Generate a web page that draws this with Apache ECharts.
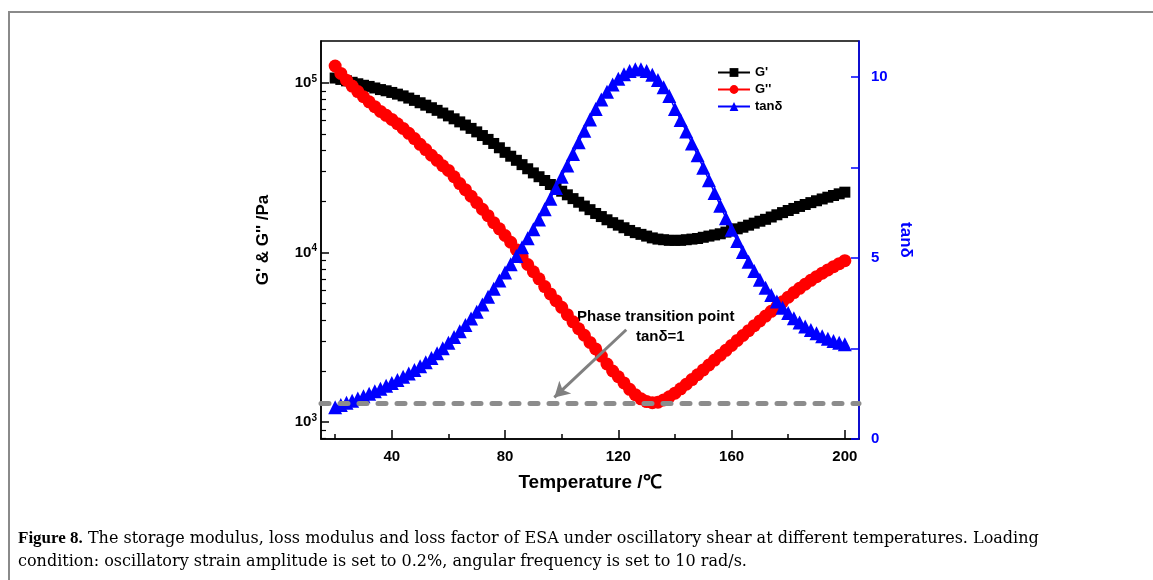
<!DOCTYPE html>
<html>
<head>
<meta charset="utf-8">
<script src="https://cdn.jsdelivr.net/npm/echarts@6/dist/echarts.min.js"></script>
<style>
  html, body { margin: 0; padding: 0; background: #fff; }
  #chart { width: 1153px; height: 580px; }
</style>
</head>
<body>
<div id="chart"></div>
<script>
// temperature (°C), one reading every 2 degrees
const temperature = [
  20, 22, 24, 26, 28, 30, 32, 34, 36, 38, 40, 42, 44, 46, 48, 50, 52, 54, 56, 58,
  60, 62, 64, 66, 68, 70, 72, 74, 76, 78, 80, 82, 84, 86, 88, 90, 92, 94, 96, 98,
  100, 102, 104, 106, 108, 110, 112, 114, 116, 118, 120, 122, 124, 126, 128, 130,
  132, 134, 136, 138, 140, 142, 144, 146, 148, 150, 152, 154, 156, 158, 160, 162,
  164, 166, 168, 170, 172, 174, 176, 178, 180, 182, 184, 186, 188, 190, 192, 194,
  196, 198, 200
];

// storage modulus G' (Pa)
const storageModulus = [
  107000, 105000, 103000, 101000, 99000, 97000, 95500, 93500, 91500, 90000,
  88000, 86000, 84000, 81500, 79000, 76500, 74000, 71500, 69000, 66500,
  64000, 61500, 59000, 56500, 54000, 51500, 49000, 46500, 44000, 41500,
  39000, 37000, 35000, 33000, 31200, 29500, 28000, 26600, 25200, 24000,
  23000, 21900, 20800, 19800, 18800, 17900, 17000, 16300, 15600, 15000,
  14500, 14000, 13500, 13100, 12800, 12500, 12200, 12000, 11900, 11800,
  11800, 11800, 11900, 12000, 12100, 12300, 12500, 12700, 12900, 13200,
  13500, 13800, 14100, 14500, 14900, 15300, 15700, 16200, 16700, 17200,
  17700, 18200, 18700, 19200, 19700, 20200, 20700, 21200, 21700, 22200,
  22700
];

// loss modulus G'' (Pa)
const lossModulus = [
  126000, 114000, 104000, 96000, 89000, 83000, 77500, 72500, 68000, 64500,
  61000, 57500, 54000, 50500, 47000, 43500, 40500, 37500, 35000, 32500,
  30500, 28000, 25500, 23500, 21500, 19700, 18000, 16500, 15000, 13800,
  12600, 11500, 10400, 9400, 8500, 7700, 7000, 6300, 5700, 5200,
  4750, 4300, 3900, 3550, 3250, 2950, 2700, 2450, 2200, 2000,
  1850, 1700, 1560, 1450, 1370, 1320, 1300, 1310, 1350, 1410,
  1480, 1570, 1670, 1780, 1900, 2030, 2170, 2320, 2480, 2650,
  2830, 3030, 3240, 3460, 3700, 3950, 4220, 4500, 4800, 5120,
  5450, 5800, 6150, 6500, 6850, 7200, 7550, 7900, 8250, 8600,
  8950
];

// loss factor tanδ
const lossFactor = [
  0.88, 0.94, 1.0, 1.06, 1.12, 1.18, 1.25, 1.32, 1.39, 1.47,
  1.55, 1.63, 1.72, 1.81, 1.91, 2.01, 2.12, 2.24, 2.37, 2.51,
  2.66, 2.82, 2.98, 3.15, 3.33, 3.52, 3.72, 3.93, 4.15, 4.38,
  4.6, 4.83, 5.06, 5.3, 5.55, 5.8, 6.07, 6.35, 6.64, 6.94,
  7.25, 7.56, 7.88, 8.2, 8.52, 8.83, 9.12, 9.38, 9.6, 9.8,
  9.96, 10.08, 10.17, 10.22, 10.22, 10.17, 10.07, 9.92, 9.72, 9.48,
  9.12, 8.82, 8.5, 8.17, 7.84, 7.5, 7.15, 6.8, 6.45, 6.1,
  5.78, 5.47, 5.17, 4.9, 4.64, 4.4, 4.18, 3.98, 3.8, 3.63,
  3.48, 3.34, 3.22, 3.11, 3.01, 2.92, 2.84, 2.77, 2.71, 2.66,
  2.62
];

const xMajorTicks = [40, 80, 120, 160, 200];
const xMinorTicks = [20, 60, 100, 140, 180];
const yMajorTicks = [1000, 10000, 100000];
const yMinorTicks = [800, 900, 2000, 3000, 4000, 5000, 6000, 7000, 8000, 9000,
  20000, 30000, 40000, 50000, 60000, 70000, 80000, 90000];
const rightTicks = [0, 2.5, 5, 7.5, 10];
const rightLabels = [0, 5, 10];
const transitionLevel = 1;

const sans = "'Liberation Sans', Arial, sans-serif";
const serif = "'DejaVu Serif', 'Liberation Serif', serif";

function pairs(ys) {
  return temperature.map((t, i) => [t, ys[i]]);
}

const myChart = echarts.init(document.getElementById("chart"), null, { renderer: "canvas" });

const option = {
  animation: false,
  backgroundColor: "#fff",
  grid: {
    left: 321,
    right: 294,
    top: 41,
    bottom: 141,
    show: true,
    borderColor: "#000",
    borderWidth: 1.5
  },
  legend: {
    orient: "vertical",
    left: 712,
    top: 61,
    itemWidth: 32,
    itemHeight: 11,
    itemGap: 4,
    data: ["G'", "G''", "tanδ"],
    textStyle: { fontFamily: sans, fontSize: 13, fontWeight: "bold", color: "#000" }
  },
  xAxis: [
    {
      type: "value",
      min: 15,
      max: 205,
      name: "Temperature /℃",
      nameLocation: "middle",
      nameGap: 34,
      nameTextStyle: { fontFamily: sans, fontSize: 19, fontWeight: "bold", color: "#000" },
      axisLine: { lineStyle: { color: "#000", width: 1.5 } },
      axisTick: { inside: true, length: 9, customValues: xMajorTicks, lineStyle: { color: "#000", width: 1.5 } },
      axisLabel: { customValues: xMajorTicks, margin: 10, fontFamily: sans, fontSize: 15, fontWeight: "bold", color: "#000" },
      splitLine: { show: false }
    },
    {
      type: "value",
      min: 15,
      max: 205,
      position: "bottom",
      axisLine: { show: false },
      axisTick: { inside: true, length: 5, customValues: xMinorTicks, lineStyle: { color: "#000", width: 1.5 } },
      axisLabel: { show: false },
      splitLine: { show: false }
    }
  ],
  yAxis: [
    {
      type: "log",
      min: 794,
      max: 177000,
      position: "left",
      name: "G' & G'' /Pa",
      nameLocation: "middle",
      nameGap: 49,
      nameRotate: 90,
      nameTextStyle: { fontFamily: sans, fontSize: 17, fontWeight: "bold", color: "#000" },
      axisLine: { lineStyle: { color: "#000", width: 1.5 } },
      axisTick: { inside: true, length: 8, customValues: yMajorTicks, lineStyle: { color: "#000", width: 1.5 } },
      axisLabel: {
        customValues: yMajorTicks,
        margin: 4,
        fontFamily: sans,
        fontSize: 15,
        fontWeight: "bold",
        color: "#000",
        formatter: v => "10{s|" + Math.round(Math.log10(v)) + "}",
        rich: {
          s: { fontFamily: sans, fontSize: 10, fontWeight: "bold", color: "#000", padding: [0, 0, 8, 0] }
        }
      },
      splitLine: { show: false }
    },
    {
      type: "log",
      min: 794,
      max: 177000,
      position: "left",
      axisLine: { show: false },
      axisTick: { inside: true, length: 5, customValues: yMinorTicks, lineStyle: { color: "#000", width: 1.2 } },
      axisLabel: { show: false },
      splitLine: { show: false }
    },
    {
      type: "value",
      min: 0,
      max: 11,
      position: "right",
      name: "tanδ",
      nameLocation: "middle",
      nameGap: 38,
      nameRotate: -90,
      nameTextStyle: { fontFamily: sans, fontSize: 17, fontWeight: "bold", color: "#0000ff" },
      axisLine: { lineStyle: { color: "#0000ff", width: 1.5 } },
      axisTick: { inside: true, length: 8, customValues: rightTicks, lineStyle: { color: "#0000ff", width: 1.5 } },
      axisLabel: { customValues: rightLabels, margin: 12, fontFamily: sans, fontSize: 15, fontWeight: "bold", color: "#0000ff" },
      splitLine: { show: false }
    }
  ],
  series: [
    {
      // tanδ = 1 reference line and annotation arrow
      name: "marker",
      type: "line",
      yAxisIndex: 2,
      data: [],
      z: 1,
      markLine: {
        silent: true,
        animation: false,
        label: { show: false },
        data: [
          [
            { yAxis: transitionLevel, x: 321, symbol: "none", lineStyle: { color: "#8c8c8c", width: 5, type: [8, 11], cap: "round" } },
            { yAxis: transitionLevel, x: 859, symbol: "none" }
          ],
          [
            { coord: [122.8, 3.02], symbol: "none", lineStyle: { color: "#808080", width: 3, type: "solid" } },
            { coord: [97.4, 1.15], symbol: "arrow", symbolSize: [13, 15] }
          ]
        ]
      }
    },
    {
      name: "G'",
      type: "line",
      data: pairs(storageModulus),
      symbol: "rect",
      symbolSize: 11,
      z: 2,
      itemStyle: { color: "#000" },
      lineStyle: { color: "#000", width: 1.5 }
    },
    {
      name: "G''",
      type: "line",
      data: pairs(lossModulus),
      symbol: "circle",
      symbolSize: 13,
      z: 3,
      itemStyle: { color: "#ff0000" },
      lineStyle: { color: "#ff0000", width: 1.5 }
    },
    {
      name: "tanδ",
      type: "line",
      yAxisIndex: 2,
      data: pairs(lossFactor),
      symbol: "triangle",
      symbolSize: 14,
      z: 4,
      itemStyle: { color: "#0000ff" },
      lineStyle: { color: "#0000ff", width: 1.5 }
    }
  ],
  graphic: [
    {
      type: "polyline",
      silent: true,
      shape: { points: [[9, 580], [9, 12], [1153, 12]] },
      style: { stroke: "#8a8a8a", lineWidth: 2, fill: null }
    },
    {
      type: "text",
      left: 577,
      top: 309,
      style: { text: "Phase transition point", fontFamily: sans, fontSize: 15, fontWeight: "bold", fill: "#000" }
    },
    {
      type: "text",
      left: 636,
      top: 329,
      style: { text: "tanδ=1", fontFamily: sans, fontSize: 15, fontWeight: "bold", fill: "#000" }
    },
    {
      type: "text",
      left: 18,
      top: 527,
      style: {
        text: "{b|Figure 8.} The storage modulus, loss modulus and loss factor of ESA under oscillatory shear at different temperatures. Loading\ncondition: oscillatory strain amplitude is set to 0.2%, angular frequency is set to 10 rad/s.",
        fontFamily: serif,
        fontSize: 16,
        lineHeight: 23,
        fill: "#000",
        rich: {
          b: { fontFamily: "'Liberation Serif', serif", fontSize: 17, fontWeight: "bold", fill: "#000", lineHeight: 23 }
        }
      }
    }
  ]
};

myChart.setOption(option);
</script>
</body>
</html>
